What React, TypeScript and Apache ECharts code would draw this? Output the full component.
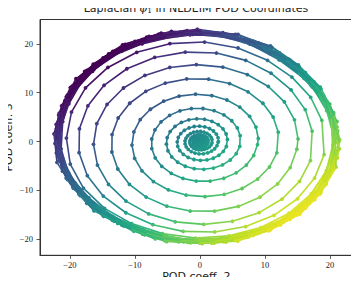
import React, { useEffect, useRef } from "react";
import * as echarts from "echarts";

// Tick values (both axes)
const xTicks = [-20, -10, 0, 10, 20];
const yTicks = [-20, -10, 0, 10, 20];

// Sample angles (degrees) of the trajectory within one revolution
const sampleAnglesDeg = [0, 15, 30, 45, 60, 75, 90, 105, 120, 135, 150, 165, 180, 195, 210, 225, 240, 255, 270, 285, 300, 315, 330, 345];

// Angular phase (degrees) of the samples in each revolution
const turnPhaseDeg = [0, 5, 10, 3, 8, 12, 1, 6, 11, 4, 9, 2, 7, 13, 3, 10, 6, 1, 12, 8, 4, 11, 2, 9, 5, 14, 7, 0, 10, 4];

// Radius of the trajectory at each sample, one row per revolution
const turnRadii: number[][] = [
  [0.25, 0.25, 0.26, 0.26, 0.27, 0.27, 0.28, 0.28, 0.29, 0.29, 0.3, 0.3, 0.31, 0.31, 0.32, 0.32, 0.33, 0.33, 0.34, 0.34, 0.35, 0.36, 0.36, 0.37],
  [0.38, 0.39, 0.39, 0.4, 0.41, 0.41, 0.42, 0.43, 0.44, 0.44, 0.45, 0.46, 0.47, 0.47, 0.48, 0.49, 0.5, 0.51, 0.51, 0.52, 0.53, 0.54, 0.55, 0.56],
  [0.57, 0.58, 0.59, 0.6, 0.61, 0.62, 0.63, 0.64, 0.65, 0.66, 0.68, 0.69, 0.7, 0.71, 0.72, 0.73, 0.75, 0.76, 0.77, 0.78, 0.8, 0.81, 0.82, 0.84],
  [0.85, 0.86, 0.88, 0.89, 0.91, 0.92, 0.94, 0.96, 0.97, 0.99, 1.01, 1.02, 1.04, 1.06, 1.08, 1.1, 1.11, 1.13, 1.15, 1.17, 1.19, 1.21, 1.23, 1.26],
  [1.28, 1.3, 1.32, 1.35, 1.37, 1.39, 1.42, 1.44, 1.47, 1.49, 1.52, 1.54, 1.57, 1.59, 1.62, 1.65, 1.68, 1.7, 1.73, 1.76, 1.79, 1.82, 1.85, 1.87],
  [1.9, 1.93, 1.96, 2.0, 2.03, 2.07, 2.1, 2.14, 2.18, 2.21, 2.25, 2.29, 2.33, 2.37, 2.41, 2.45, 2.49, 2.53, 2.57, 2.62, 2.66, 2.71, 2.76, 2.8],
  [2.85, 2.9, 2.95, 3.0, 3.05, 3.1, 3.15, 3.21, 3.26, 3.32, 3.37, 3.43, 3.49, 3.55, 3.61, 3.67, 3.73, 3.79, 3.86, 3.92, 3.99, 4.05, 4.12, 4.19],
  [4.25, 4.32, 4.39, 4.47, 4.54, 4.62, 4.69, 4.77, 4.85, 4.93, 5.02, 5.1, 5.18, 5.27, 5.36, 5.45, 5.54, 5.63, 5.72, 5.82, 5.91, 6.01, 6.11, 6.21],
  [6.3, 6.39, 6.49, 6.59, 6.69, 6.79, 6.89, 7.0, 7.1, 7.21, 7.32, 7.43, 7.54, 7.65, 7.77, 7.88, 8.0, 8.12, 8.25, 8.37, 8.5, 8.62, 8.75, 8.88],
  [9.0, 9.12, 9.23, 9.35, 9.47, 9.59, 9.72, 9.84, 9.97, 10.09, 10.22, 10.35, 10.48, 10.62, 10.75, 10.89, 11.03, 11.17, 11.31, 11.46, 11.6, 11.75, 11.9, 12.05],
  [12.2, 12.33, 12.46, 12.59, 12.72, 12.85, 12.98, 13.1, 13.23, 13.35, 13.47, 13.59, 13.71, 13.83, 13.95, 14.07, 14.19, 14.31, 14.43, 14.54, 14.66, 14.77, 14.88, 14.99],
  [15.1, 15.21, 15.32, 15.43, 15.54, 15.65, 15.76, 15.87, 15.97, 16.08, 16.18, 16.28, 16.38, 16.48, 16.58, 16.68, 16.78, 16.88, 16.98, 17.08, 17.17, 17.27, 17.36, 17.45],
  [17.39, 17.47, 17.56, 17.76, 18.06, 18.31, 18.46, 18.58, 18.67, 18.72, 18.72, 18.72, 18.73, 18.68, 18.6, 18.51, 18.5, 18.58, 18.66, 18.78, 18.92, 19.04, 19.16, 19.29],
  [19.25, 19.3, 19.35, 19.62, 20.04, 20.39, 20.58, 20.7, 20.75, 20.75, 20.66, 20.55, 20.47, 20.3, 20.07, 19.82, 19.72, 19.78, 19.83, 19.95, 20.08, 20.19, 20.33, 20.47],
  [20.6, 20.5, 20.6, 20.9, 21.3, 21.8, 22.0, 22.2, 22.1, 22.0, 21.9, 21.7, 21.6, 21.2, 20.8, 20.5, 20.3, 20.4, 20.4, 20.5, 20.6, 20.8, 20.8, 21.0],
  [21.0, 21.1, 20.9, 21.3, 21.9, 22.2, 22.5, 22.4, 22.6, 22.5, 22.2, 22.1, 22.0, 21.6, 21.3, 20.9, 20.8, 20.7, 20.8, 20.8, 20.9, 21.1, 21.1, 21.3],
  [21.3, 21.4, 21.2, 21.7, 22.1, 22.6, 22.7, 22.9, 22.8, 22.8, 22.5, 22.4, 22.2, 21.8, 21.5, 21.0, 20.9, 20.8, 20.9, 20.9, 21.1, 21.1, 21.3, 21.4],
  [21.5, 21.4, 21.6, 21.8, 22.4, 22.6, 23.0, 22.9, 23.1, 22.8, 22.8, 22.4, 22.3, 22.0, 21.5, 21.3, 21.0, 21.1, 20.9, 21.2, 21.1, 21.4, 21.3, 21.6],
  [20.8, 21.0, 20.8, 21.3, 21.6, 22.2, 22.2, 22.5, 22.3, 22.4, 22.0, 22.0, 21.6, 21.5, 21.1, 20.5, 20.5, 20.3, 20.5, 20.4, 20.7, 20.6, 20.9, 20.8],
  [21.3, 21.2, 21.2, 21.4, 22.1, 22.3, 22.6, 22.7, 22.8, 22.5, 22.4, 22.2, 22.1, 21.6, 21.3, 21.0, 20.6, 20.7, 20.7, 20.9, 20.9, 21.1, 21.0, 21.2],
  [20.5, 20.9, 20.6, 20.8, 21.4, 22.1, 21.9, 22.0, 22.4, 21.9, 22.1, 21.5, 21.4, 21.3, 20.6, 20.4, 20.0, 20.3, 20.0, 20.3, 20.5, 20.4, 20.7, 20.5],
  [21.5, 21.2, 21.5, 21.9, 22.0, 22.4, 23.0, 22.8, 22.7, 23.0, 22.5, 22.5, 22.4, 21.7, 21.6, 20.9, 21.1, 20.8, 21.0, 20.8, 21.1, 21.3, 21.1, 21.5],
  [20.9, 21.0, 20.8, 21.3, 22.0, 22.2, 22.3, 22.7, 22.5, 22.2, 22.3, 21.8, 21.7, 21.5, 21.0, 20.8, 20.4, 20.5, 20.3, 20.7, 20.5, 20.8, 20.9, 20.9],
  [20.6, 20.7, 20.6, 20.7, 21.4, 22.0, 22.0, 21.9, 22.2, 22.1, 21.6, 21.7, 21.5, 21.0, 20.7, 20.2, 20.1, 20.2, 20.1, 20.1, 20.4, 20.3, 20.4, 20.6],
  [21.1, 21.2, 21.4, 21.7, 22.0, 22.4, 22.8, 22.9, 22.7, 22.7, 22.5, 22.2, 22.1, 21.9, 21.2, 21.0, 20.9, 20.7, 20.9, 20.9, 20.9, 21.2, 21.2, 21.1],
  [20.8, 20.8, 20.7, 21.0, 21.7, 22.1, 22.1, 22.3, 22.5, 22.1, 22.0, 21.8, 21.5, 21.2, 20.9, 20.5, 20.2, 20.3, 20.2, 20.5, 20.5, 20.6, 20.8, 20.8],
  [21.0, 21.2, 21.1, 21.4, 21.8, 22.3, 22.6, 22.5, 22.6, 22.5, 22.2, 22.0, 21.9, 21.6, 21.1, 20.7, 20.6, 20.6, 20.6, 20.7, 20.8, 20.9, 21.0, 21.1],
  [21.4, 21.3, 21.5, 21.6, 22.2, 22.7, 22.7, 23.0, 23.0, 22.6, 22.7, 22.4, 22.1, 21.8, 21.5, 21.2, 20.8, 21.0, 20.8, 21.0, 21.1, 21.2, 21.4, 21.3],
];

const VIRIDIS = ["#440154", "#482475", "#414487", "#355f8d", "#2a788e", "#21918c", "#22a884", "#44bf70", "#7ad151", "#bddf26", "#fde725"];

function hexToRgb(h: string) {
  return [parseInt(h.slice(1, 3), 16), parseInt(h.slice(3, 5), 16), parseInt(h.slice(5, 7), 16)];
}
const VIRIDIS_RGB = VIRIDIS.map(hexToRgb);

function viridis(t: number) {
  const tt = Math.max(0, Math.min(1, t)) * 10;
  const i = Math.min(9, Math.floor(tt));
  const f = tt - i;
  const a = VIRIDIS_RGB[i];
  const b = VIRIDIS_RGB[i + 1];
  const c = a.map((v, k) => Math.round(v + (b[k] - v) * f));
  return `rgb(${c[0]},${c[1]},${c[2]})`;
}

function colorAt(x: number, y: number) {
  return viridis(0.5 + (x - y) / 63);
}

function fmt(v: number) {
  return v < 0 ? "\u2212" + Math.abs(v) : String(v);
}

export default function App() {
  const ref = useRef<HTMLDivElement>(null);

  useEffect(() => {
    if (!ref.current) return;
    const chart = echarts.init(ref.current, undefined, { renderer: "svg" });

    const pts: number[][] = [];
    turnRadii.forEach((row, k) => {
      row.forEach((r, j) => {
        const a = ((sampleAnglesDeg[j] + turnPhaseDeg[k % turnPhaseDeg.length]) * Math.PI) / 180;
        pts.push([r * Math.cos(a), r * Math.sin(a)]);
      });
    });
    const data = pts.map((p, i) => {
      const q = i > 0 ? pts[i - 1] : p;
      return [p[0], p[1], q[0], q[1]];
    });

    const axisColor = "#333";
    const tickFont = { fontFamily: "Liberation Serif", fontSize: 8.5, color: "#222" };
    const nameFont = { fontFamily: "DejaVu Sans", fontSize: 11, color: "#222", fontWeight: "normal" };

    chart.setOption({
      animation: false,
      title: {
        text: "{a|Laplacian }{b|\u03d5}{c|1}{a| in NLDEIM POD Coordinates}",
        left: 196,
        top: 1.5,
        padding: 0,
        textAlign: "center",
        textStyle: {
          fontWeight: "normal",
          rich: {
            a: { fontFamily: "DejaVu Sans", fontWeight: "normal", fontSize: 11, color: "#222", lineHeight: 13, verticalAlign: "middle" },
            b: { fontFamily: "DejaVu Serif", fontWeight: "normal", fontStyle: "italic", fontSize: 11, color: "#222", lineHeight: 13, verticalAlign: "middle" },
            c: { fontFamily: "DejaVu Serif", fontWeight: "normal", fontSize: 7.5, color: "#222", lineHeight: 7, verticalAlign: "bottom" },
          },
        },
      },
      grid: {
        left: 40,
        top: 19.5,
        right: 6.3,
        bottom: 29.7,
        outerBoundsMode: "none",
        containLabel: false,
        show: true,
        borderColor: axisColor,
        borderWidth: 1,
        backgroundColor: "transparent",
      },
      xAxis: {
        type: "value",
        min: -24.6,
        max: 23.5,
        splitLine: { show: false },
        axisLine: { show: true, onZero: false, lineStyle: { color: axisColor, width: 1 } },
        axisTick: { show: true, length: 3.5, lineStyle: { color: axisColor, width: 0.8 }, customValues: xTicks },
        axisLabel: { customValues: xTicks, formatter: fmt, margin: 5, ...tickFont },
        name: "POD coeff. 2",
        nameLocation: "middle",
        nameGap: 16,
        nameMoveOverlap: false,
        nameTextStyle: nameFont,
      },
      yAxis: {
        type: "value",
        min: -23.3,
        max: 25.0,
        splitLine: { show: false },
        axisLine: { show: true, onZero: false, lineStyle: { color: axisColor, width: 1 } },
        axisTick: { show: true, length: 3.5, lineStyle: { color: axisColor, width: 0.8 }, customValues: yTicks },
        axisLabel: { customValues: yTicks, formatter: fmt, margin: 7, ...tickFont },
        name: "POD coeff. 3",
        nameLocation: "middle",
        nameGap: 26,
        nameMoveOverlap: false,
        nameTextStyle: nameFont,
      },
      series: [
        {
          type: "custom",
          coordinateSystem: "cartesian2d",
          data,
          encode: { x: 0, y: 1 },
          renderItem: (params: any, api: any) => {
            const x = api.value(0);
            const y = api.value(1);
            const px = api.value(2);
            const py = api.value(3);
            const a = api.coord([px, py]);
            const b = api.coord([x, y]);
            const segColor = colorAt((x + px) / 2, (y + py) / 2);
            const ptColor = colorAt(x, y);
            return {
              type: "group",
              children: [
                {
                  type: "line",
                  shape: { x1: a[0], y1: a[1], x2: b[0], y2: b[1] },
                  style: { stroke: segColor, lineWidth: 1.6, lineCap: "round" },
                },
                {
                  type: "circle",
                  shape: { cx: b[0], cy: b[1], r: 1.9 },
                  style: { fill: ptColor },
                },
              ],
            };
          },
        },
      ],
    });

    return () => chart.dispose();
  }, []);

  return <div ref={ref} style={{ width: 359, height: 285, margin: -8 }} />;
}
